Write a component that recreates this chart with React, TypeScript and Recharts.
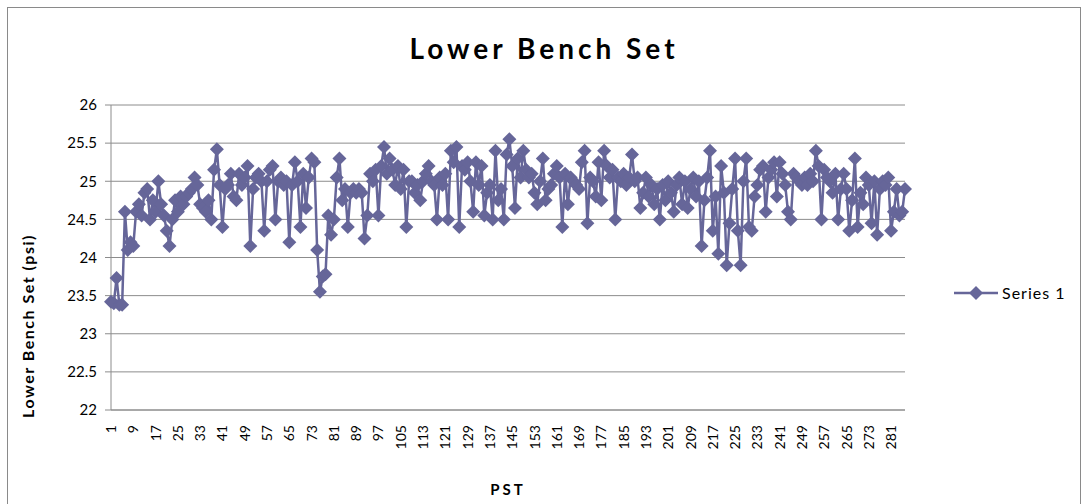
import React from "react";
import { LineChart, Line, XAxis, YAxis, CartesianGrid } from "recharts";

const title = "Lower Bench Set";
const yTitle = "Lower Bench Set (psi)";
const xTitle = "PST";
const seriesName = "Series 1";

const yTicks = [22, 22.5, 23, 23.5, 24, 24.5, 25, 25.5, 26];

const values = [
  23.42, 23.4, 23.73, 23.38, 23.38, 24.6, 24.1, 24.2, 24.15, 24.6,
  24.7, 24.55, 24.85, 24.9, 24.5, 24.75, 24.6, 25.0, 24.7, 24.55,
  24.35, 24.15, 24.5, 24.75, 24.6, 24.8, 24.7, 24.8, 24.85, 24.9,
  25.05, 24.95, 24.7, 24.65, 24.6, 24.75, 24.5, 25.15, 25.42, 24.95,
  24.4, 24.9, 24.95, 25.1, 24.8, 24.75, 25.1, 24.95, 25.05, 25.2,
  24.15, 24.9, 25.05, 25.1, 25.0, 24.35, 25.0, 25.15, 25.2, 24.5,
  25.0, 25.05, 24.95, 25.0, 24.2, 24.95, 25.25, 25.0, 24.4, 25.1,
  24.65, 25.05, 25.3, 25.25, 24.1, 23.55, 23.75, 23.78, 24.55, 24.3,
  24.5, 25.05, 25.3, 24.75, 24.9, 24.4, 24.85, 24.9, 24.85, 24.9,
  24.85, 24.25, 24.55, 25.1, 25.0, 25.15, 24.55, 25.2, 25.45, 25.1,
  25.3, 25.15, 24.95, 25.2, 24.9, 25.15, 24.4, 25.0, 25.0, 24.85,
  24.95, 24.75, 25.0, 25.1, 25.2, 25.0, 24.95, 24.5, 25.05, 24.95,
  25.1, 24.5, 25.4, 25.25, 25.45, 24.4, 25.2, 25.15, 25.25, 25.0,
  24.6, 25.25, 24.95, 25.2, 24.55, 24.85, 24.95, 24.5, 25.4, 24.75,
  24.9, 24.5, 25.35, 25.55, 25.2, 24.65, 25.3, 25.05, 25.4, 25.15,
  25.05, 25.1, 24.85, 24.7, 25.0, 25.3, 24.75, 24.9, 24.95, 25.1,
  25.2, 25.05, 24.4, 25.1, 24.7, 25.05, 25.0, 24.95, 24.9, 25.25,
  25.4, 24.45, 25.05, 25.0, 24.8, 25.25, 24.75, 25.4, 25.2, 25.05,
  25.15, 24.5, 25.05, 25.0, 25.1, 24.95, 25.05, 25.35, 25.0, 25.05,
  24.65, 24.85, 25.05, 24.8, 24.95, 24.7, 24.9, 24.5, 24.95, 24.75,
  25.0, 24.85, 24.6, 24.95, 25.05, 24.7, 25.0, 24.65, 24.9, 25.05,
  24.8, 25.0, 24.15, 24.75, 25.05, 25.4, 24.35, 24.8, 24.05, 25.2,
  24.85, 23.9, 24.45, 24.9, 25.3, 24.35, 23.9, 25.0, 25.3, 24.4,
  24.35, 24.8, 24.95, 25.15, 25.2, 24.6, 25.05, 25.15, 25.25, 24.8,
  25.25, 25.1, 24.95, 24.6, 24.5, 25.1, 25.05, 25.0, 24.95, 25.05,
  24.95, 25.1, 25.0, 25.4, 25.2, 24.5, 25.15, 25.05, 25.0, 24.85,
  25.1, 24.5, 24.9, 25.1, 24.9, 24.35, 24.75, 25.3, 24.4, 24.85,
  24.7, 25.05, 24.95, 24.45, 25.0, 24.3, 24.9, 25.0, 24.95, 25.05,
  24.35, 24.6, 24.9, 24.55, 24.6, 24.9,
];

const pst = values.map((_, i) => String(i + 1));

const COLOR = "#666699";
const GRID = "#8c8c8c";
const FONT = "Lato, 'Liberation Sans', sans-serif";

const data = values.map((v, i) => ({ pst: pst[i], value: v }));

function Diamond(props: any) {
  const { cx, cy, index } = props;
  if (cx == null || cy == null) return <g key={index} />;
  const r = 7;
  return (
    <path
      key={index}
      d={`M${cx},${cy - r}L${cx + r},${cy}L${cx},${cy + r}L${cx - r},${cy}Z`}
      fill={COLOR}
      stroke="none"
    />
  );
}

function XTick({ x, y, payload }: any) {
  return (
    <g transform={`translate(${x},${y})`}>
      <text
        transform="rotate(-90)"
        x={-7}
        y={0}
        dy="0.36em"
        textAnchor="end"
        fontSize={14}
        fill="#000"
        fontFamily={FONT}
      >
        {payload.value}
      </text>
    </g>
  );
}

export default function App() {
  return (
    <div
      style={{
        position: "absolute",
        left: 7,
        top: 7,
        width: 1072,
        height: 510,
        border: "1px solid #8a8a8a",
        background: "#fff",
        fontFamily: FONT,
      }}
    >
      <div
        style={{
          position: "absolute",
          left: 0,
          width: 1072,
          top: 23,
          textAlign: "center",
          fontSize: 28,
          fontWeight: 700,
          letterSpacing: 4,
          color: "#000",
        }}
      >
        {title}
      </div>
      <div
        style={{
          position: "absolute",
          left: 19,
          top: 318,
          width: 0,
          height: 0,
        }}
      >
        <div
          style={{
            position: "absolute",
            transform: "translate(-50%, -50%) rotate(-90deg)",
            whiteSpace: "nowrap",
            fontSize: 16,
            fontWeight: 700,
            letterSpacing: 1.5,
          }}
        >
          {yTitle}
        </div>
      </div>
      <div
        style={{
          position: "absolute",
          left: 0,
          width: 1000,
          top: 472,
          textAlign: "center",
          fontSize: 15,
          fontWeight: 700,
          letterSpacing: 3,
        }}
      >
        {xTitle}
      </div>
      <svg
        style={{ position: "absolute", left: 940, top: 272 }}
        width={132}
        height={26}
      >
        <line x1={6} y1={13} x2={50} y2={13} stroke={COLOR} strokeWidth={2.5} />
        <path d="M28,6L35,13L28,20L21,13Z" fill={COLOR} />
        <text x={54} y={19} fontSize={16} letterSpacing={1} fill="#000" fontFamily={FONT}>
          {seriesName}
        </text>
      </svg>
      <LineChart
        width={1072}
        height={498}
        data={data}
        margin={{ top: 97, right: 175, bottom: 56, left: 43 }}
        style={{ position: "absolute", left: 0, top: 0 }}
      >
        <CartesianGrid vertical={false} stroke={GRID} strokeWidth={1} />
        <XAxis
          dataKey="pst"
          interval={7}
          height={40}
          tick={<XTick />}
          tickLine={false}
          axisLine={{ stroke: GRID }}
        />
        <YAxis
          width={60}
          domain={[22, 26]}
          ticks={yTicks}
          type="number"
          allowDataOverflow
          tick={{ fontSize: 15, fill: "#000", fontFamily: FONT }}
          tickMargin={8}
          tickSize={6}
          tickLine={{ stroke: GRID }}
          axisLine={{ stroke: GRID }}
        />
        <Line
          type="linear"
          dataKey="value"
          name={seriesName}
          stroke={COLOR}
          strokeWidth={2.5}
          dot={<Diamond />}
          activeDot={false}
          isAnimationActive={false}
        />
      </LineChart>
    </div>
  );
}
